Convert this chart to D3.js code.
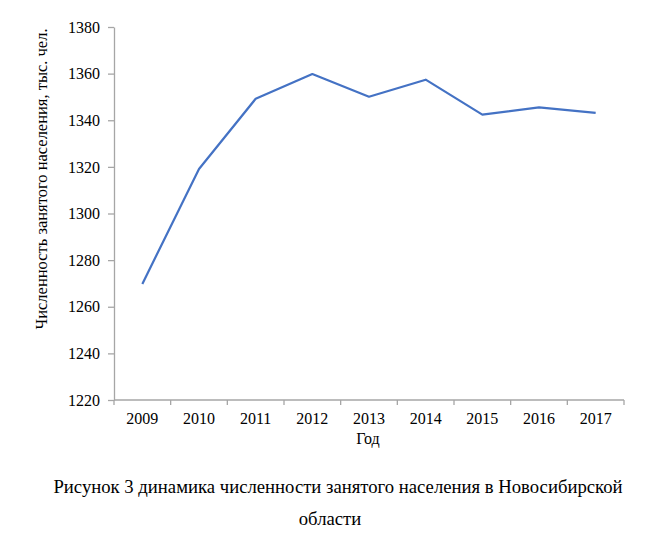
<!DOCTYPE html>
<html>
<head>
<meta charset="utf-8">
<script src="https://cdn.jsdelivr.net/npm/d3@7"></script>
<style>
  body { margin: 0; background: #fff; }
  text { font-family: "Liberation Serif", "Times New Roman", serif; fill: #000; }
</style>
</head>
<body>
<div id="chart"></div>
<script>
var years = ["2009", "2010", "2011", "2012", "2013", "2014", "2015", "2016", "2017"];
var employed = [1269.8, 1319.1, 1349.2, 1359.8, 1350.1, 1357.4, 1342.4, 1345.5, 1343.2];
var yTicks = [1220, 1240, 1260, 1280, 1300, 1320, 1340, 1360, 1380];

var width = 665;
var height = 533;

var svg = d3.select("#chart")
    .append("svg")
    .attr("width", width)
    .attr("height", height);

var plotLeft = 114, plotRight = 624, plotTop = 27, plotBottom = 400;

// x axis: categories
var x = d3.scaleBand()
    .domain(years)
    .range([plotLeft, plotRight]);

var y = d3.scaleLinear()
    .domain([1220, 1380])
    .range([plotBottom, plotTop]);

var axisColor = "#a6a6a6";

// Y axis
var yAxis = svg.append("g")
    .attr("transform", "translate(" + plotLeft + ",0)")
    .call(d3.axisLeft(y).tickValues(yTicks).tickSize(6).tickSizeOuter(0).tickPadding(8).tickFormat(d3.format("d")));
yAxis.select(".domain").attr("stroke", axisColor).attr("stroke-width", 1.3);
yAxis.selectAll(".tick line").attr("stroke", axisColor).attr("stroke-width", 1.3);
yAxis.selectAll(".tick text").style("font-size", "16px").attr("fill", "#000");

// X axis with ticks at band boundaries
var xAxis = svg.append("g")
    .attr("transform", "translate(0," + plotBottom + ")");
xAxis.append("line")
    .attr("x1", plotLeft).attr("x2", plotRight)
    .attr("stroke", axisColor).attr("stroke-width", 1.3);
var bounds = years.map(d => x(d)).concat([x(years[years.length - 1]) + x.bandwidth()]);
xAxis.selectAll(".xtick")
    .data(bounds)
    .join("line")
    .attr("x1", d => d).attr("x2", d => d)
    .attr("y1", 0).attr("y2", 5)
    .attr("stroke", axisColor).attr("stroke-width", 1.3);
xAxis.selectAll(".xlabel")
    .data(years)
    .join("text")
    .attr("x", d => x(d) + x.bandwidth() / 2)
    .attr("y", 24)
    .attr("text-anchor", "middle")
    .style("font-size", "16px")
    .text(d => d);

// Axis titles
svg.append("text")
    .attr("x", 368)
    .attr("y", 444)
    .attr("text-anchor", "middle")
    .style("font-size", "16px")
    .text("Год");

svg.append("text")
    .attr("transform", "translate(47," + 179 + ") rotate(-90)")
    .attr("text-anchor", "middle")
    .style("font-size", "16.5px")
    .text("Численность занятого населения, тыс. чел.");

// The line
svg.append("path")
    .datum(employed)
    .attr("fill", "none")
    .attr("stroke", "#4472c4")
    .attr("stroke-width", 2.2)
    .attr("stroke-linejoin", "round")
    .attr("d", d3.line()
        .x((d, i) => x(years[i]) + x.bandwidth() / 2)
        .y(d => y(d)));

// Caption
svg.append("text")
    .attr("x", 338)
    .attr("y", 493)
    .attr("text-anchor", "middle")
    .style("font-size", "18.7px")
    .text("Рисунок 3 динамика численности занятого населения в Новосибирской");
svg.append("text")
    .attr("x", 330)
    .attr("y", 525)
    .attr("text-anchor", "middle")
    .style("font-size", "18.7px")
    .text("области");
</script>
</body>
</html>
